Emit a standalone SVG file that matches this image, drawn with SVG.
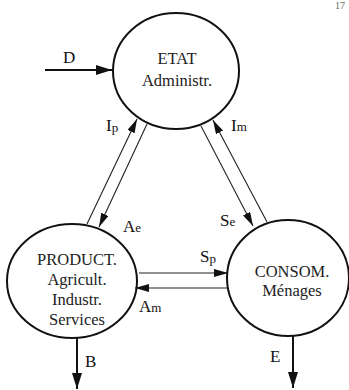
<svg xmlns="http://www.w3.org/2000/svg" width="349" height="390" viewBox="0 0 349 390">
<defs>
<style>
.node{fill:none;stroke:#111;stroke-width:2}
.t{font-family:"Liberation Serif","Times New Roman",serif;font-size:16.5px;fill:#222;text-anchor:middle}
.lbl{font-family:"Liberation Serif","Times New Roman",serif;font-size:17px;fill:#111}
.sub{font-size:13px}
.thin{fill:none;stroke:#222;stroke-width:1.1}
.thick{fill:none;stroke:#111;stroke-width:2}
</style>
<marker id="ah" viewBox="0 0 14 8" refX="14" refY="4" markerWidth="14" markerHeight="8" markerUnits="userSpaceOnUse" orient="auto">
<path d="M0,0 L14,4 L0,8 Z" fill="#111"/>
</marker>
<marker id="ahb" viewBox="0 0 16 10" refX="16" refY="5" markerWidth="16" markerHeight="10" markerUnits="userSpaceOnUse" orient="auto">
<path d="M0,0 L16,5 L0,10 Z" fill="#111"/>
</marker>
</defs>
<rect width="349" height="390" fill="#fff"/>
<text x="335" y="9" font-family="Liberation Serif, serif" font-size="10" fill="#666">17</text>
<g id="connectors">
<line class="thick" x1="45" y1="70" x2="112" y2="70" marker-end="url(#ahb)"/>
<line class="thin" x1="87" y1="224" x2="137" y2="119" marker-end="url(#ah)"/>
<line class="thin" x1="147" y1="124" x2="99" y2="227" marker-end="url(#ah)"/>
<line class="thin" x1="201" y1="126" x2="253" y2="226" marker-end="url(#ah)"/>
<line class="thin" x1="267" y1="222" x2="213" y2="120" marker-end="url(#ah)"/>
<line class="thin" x1="139" y1="273" x2="228" y2="273" marker-end="url(#ah)"/>
<line class="thin" x1="228" y1="288" x2="135" y2="288" marker-end="url(#ah)"/>
<line class="thick" x1="77" y1="338" x2="77" y2="389" marker-end="url(#ahb)"/>
<line class="thick" x1="293" y1="336" x2="293" y2="388" marker-end="url(#ahb)"/>
<text class="lbl" x="63" y="63">D</text>
<text class="lbl" x="106" y="131">I<tspan class="sub" dy="1">p</tspan></text>
<text class="lbl" x="231" y="131">I<tspan class="sub">m</tspan></text>
<text class="lbl" x="123" y="232">A<tspan class="sub">e</tspan></text>
<text class="lbl" x="220" y="226">S<tspan class="sub">e</tspan></text>
<text class="lbl" x="200" y="262">S<tspan class="sub" dy="1">p</tspan></text>
<text class="lbl" x="139" y="312">A<tspan class="sub">m</tspan></text>
<text class="lbl" x="85" y="367">B</text>
<text class="lbl" x="270" y="362">E</text>
</g>
<g id="etat">
<ellipse class="node" cx="176" cy="71" rx="63" ry="58"/>
<text class="t" x="177" y="64">ETAT</text>
<text class="t" x="177" y="86">Administr.</text>
</g>
<g id="product">
<ellipse class="node" cx="72" cy="281" rx="65" ry="57"/>
<text class="t" x="77" y="265">PRODUCT.</text>
<text class="t" x="77" y="285">Agricult.</text>
<text class="t" x="77" y="305">Industr.</text>
<text class="t" x="77" y="325">Services</text>
</g>
<g id="consom">
<ellipse class="node" cx="288" cy="278" rx="61" ry="58"/>
<text class="t" x="292" y="277">CONSOM.</text>
<text class="t" x="292" y="296">Ménages</text>
</g>
</svg>
